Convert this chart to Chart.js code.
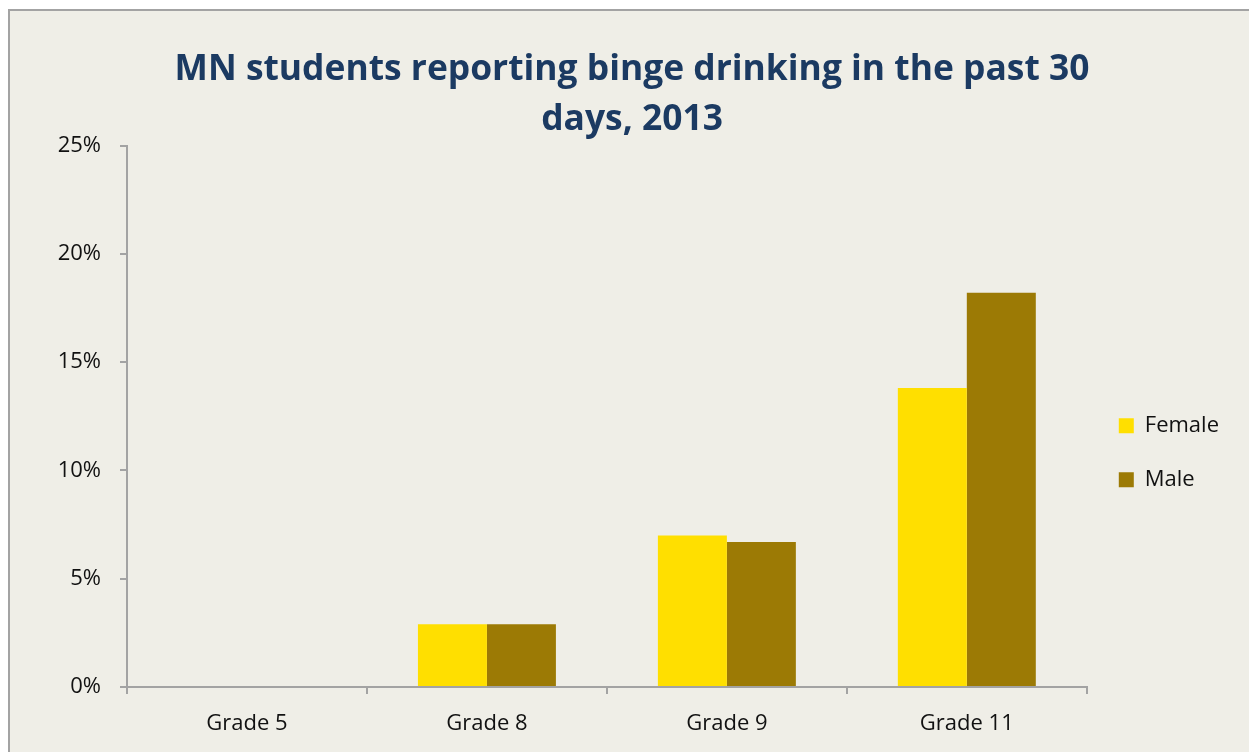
<!DOCTYPE html>
<html>
<head>
<meta charset="utf-8">
<title>MN students reporting binge drinking</title>
<script src="https://cdn.jsdelivr.net/npm/chart.js@4/dist/chart.umd.min.js"></script>
<style>
  html, body { margin: 0; padding: 0; background: #ffffff; overflow: hidden; }
  #frame {
    position: absolute; left: 8px; top: 9px;
    width: 1300px; height: 800px;
    border: 2px solid #a3a3a3;
    background: #efeee7;
  }
  #grafico { position: absolute; left: 0; top: 0; }
</style>
</head>
<body>
<div id="frame"></div>
<canvas id="grafico" width="1249" height="752"></canvas>
<script>
// datos: porcentaje de estudiantes por grado
const grados   = ['Grade 5', 'Grade 8', 'Grade 9', 'Grade 11'];
const mujeres  = [null, 2.9, 7.0, 13.8];
const hombres  = [null, 2.9, 6.7, 18.2];
const titulo   = ['MN students reporting binge drinking in the past 30', 'days, 2013'];

const gris = '#a3a3a3';
const fuente = "'Open Sans', sans-serif";

// margenes del layout (el titulo queda un poco a la derecha)
const padDer = 20;
const padIzq = 35;

const ctx = document.getElementById('grafico').getContext('2d');

new Chart(ctx, {
  type: 'bar',
  data: {
    labels: grados,
    datasets: [
      { label: 'Female', data: mujeres, backgroundColor: '#ffdf00', borderWidth: 0 },
      { label: 'Male',   data: hombres, backgroundColor: '#9c7a05', borderWidth: 0 }
    ]
  },
  options: {
    responsive: false,
    animation: false,
    layout: { padding: { left: padIzq, right: padDer, top: 0, bottom: 0 } },
    datasets: {
      bar: { categoryPercentage: 0.575, barPercentage: 1.0 }
    },
    plugins: {
      title: {
        display: true,
        text: titulo,
        color: '#1b3a62',
        font: { family: fuente, size: 35.4, weight: 'bold', lineHeight: 1.42 },
        padding: { top: 45, bottom: 0 }
      },
      legend: {
        position: 'right',
        fullSize: false,
        // titulo vacio para bajar las etiquetas
        title: { display: true, text: '', font: { size: 10, lineHeight: 1 }, padding: { top: 63, bottom: 0 } },
        labels: {
          boxWidth: 15,
          boxHeight: 15,
          padding: 32,
          color: '#111111',
          font: { family: fuente, size: 22 }
        }
      },
      tooltip: { enabled: false }
    },
    scales: {
      x: {
        afterFit: s => { s.height = 65; },
        grid: { display: true, drawOnChartArea: false, drawTicks: true, tickLength: 7, color: gris, lineWidth: 2, offset: true },
        border: { display: true, color: gris, width: 2 },
        ticks: { color: '#111111', padding: 17, font: { family: fuente, size: 22 } }
      },
      y: {
        min: 0,
        max: 25,
        afterFit: s => { s.width = 127 - padIzq; },
        grid: { display: true, drawOnChartArea: false, drawTicks: true, tickLength: 7, color: gris, lineWidth: 2 },
        border: { display: true, color: gris, width: 2 },
        ticks: {
          stepSize: 5,
          padding: 19,
          color: '#111111',
          font: { family: fuente, size: 22 },
          callback: v => v + '%'
        }
      }
    }
  }
});
</script>
</body>
</html>
